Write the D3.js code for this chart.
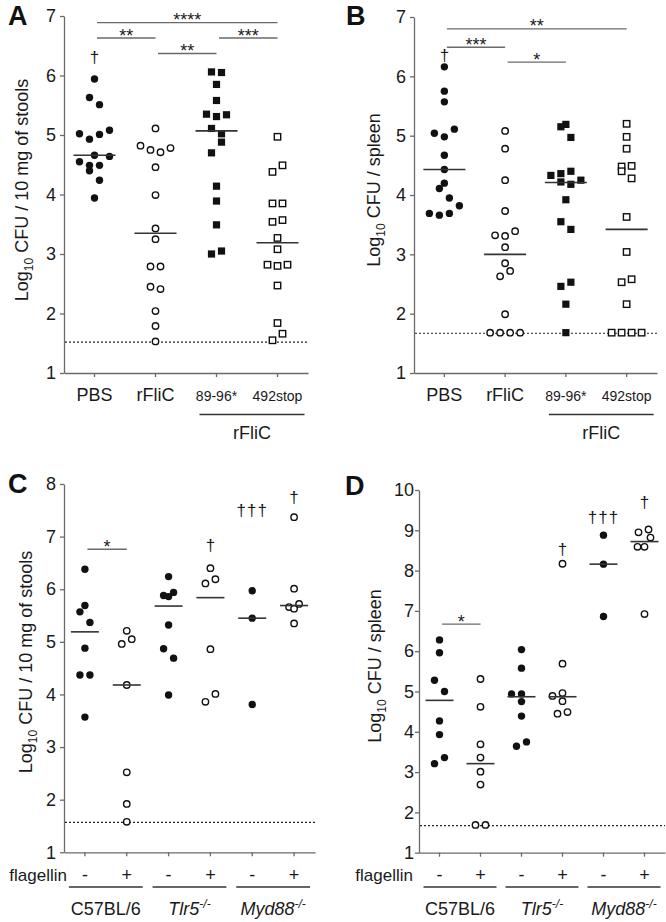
<!DOCTYPE html>
<html><head><meta charset="utf-8">
<script src="https://cdn.jsdelivr.net/npm/d3@7"></script>
<style>
html,body{margin:0;padding:0;background:#fff;}
svg{display:block;}
</style></head><body>
<svg id="c" width="666" height="922"></svg>
<script>
// ================= DATA =================
// Panels A & B (rFliC variants)
const catsAB = ["PBS", "rFliC", "89-96*", "492stop"];
const ticksAB = [1, 2, 3, 4, 5, 6, 7];
const markersAB = ["dot", "ring", "square", "box"];

// Panel A: Log10 CFU / 10 mg of stools
const A_PBS     = [5.94, 5.63, 5.51, 5.02, 4.93, 5.01, 5.08, 4.66, 4.64, 4.55, 4.49, 4.49, 4.40, 4.24, 3.94];
const A_PBS_j   = [0, -1, 1, -3, -1, 1, 3, 0, 3, -3, -1, 1, -1, 1, 0];
const A_rFliC   = [5.11, 4.82, 4.75, 4.71, 4.78, 4.46, 3.99, 3.43, 3.25, 2.79, 2.79, 2.45, 2.41, 2.04, 1.79, 1.53];
const A_rFliC_j = [0, -3, -1, 1, 3, 0, 0, 0, 0, -1, 1, -1, 1, 0, 0, 0];
const A_8996    = [6.06, 6.05, 5.85, 5.58, 5.35, 5.31, 5.34, 5.11, 5.02, 4.88, 4.70, 4.14, 3.89, 3.49, 3.00, 3.05];
const A_8996_j  = [-1, 1, 0, 0, -2, 0, 2, -1, 1, 1, -1, 0, 0, 0, -1, 1];
const A_492     = [4.97, 4.38, 4.49, 3.85, 3.85, 3.54, 3.57, 3.27, 3.08, 2.82, 2.80, 2.82, 2.47, 1.84, 1.66, 1.55];
const A_492_j   = [0, -1, 1, -1, 1, -1, 1, 0, 0, -2, 0, 2, 0, 0, 1, -1];
const A_medians = [4.66, 3.35, 5.07, 3.19];
const A_limit   = 1.52;
const A_sig     = [[0, 3, 6.89, "****"], [0, 1, 6.63, "**"], [2, 3, 6.63, "***"], [1, 2, 6.37, "**"]];
const A_dagger  = [[0, 6.30, "\u2020"]];

// Panel B: Log10 CFU / spleen
const B_PBS     = [6.16, 5.75, 5.57, 5.04, 4.98, 5.11, 4.67, 4.43, 4.20, 4.11, 3.95, 3.82, 3.69, 3.66, 3.69];
const B_PBS_j   = [0, 0, 0, -2, 0, 2, 0, 0, 0, -1, 1, 3, -3, -1, 1];
const B_rFliC   = [5.08, 4.78, 4.25, 3.73, 3.32, 3.31, 3.39, 3.12, 2.85, 2.72, 2.63, 1.99, 1.68, 1.68, 1.68, 1.68];
const B_rFliC_j = [0, 0, 0, 0, -2, 0, 2, 0, 0, 1, -1, 0, -3, -1, 1, 3];
const B_8996    = [5.15, 5.19, 4.97, 4.33, 4.36, 4.40, 4.22, 4.18, 4.25, 3.92, 3.55, 3.42, 2.46, 2.53, 2.16, 1.68];
const B_8996_j  = [-1, 0, 1, -3, -1, 1, -1, 1, 3, 0, -1, 1, -1, 1, 0, 0];
const B_492     = [5.20, 4.98, 4.78, 4.48, 4.49, 4.40, 4.28, 3.63, 3.04, 2.53, 2.58, 2.16, 1.68, 1.68, 1.68, 1.68];
const B_492_j   = [0, 0, 0, -1, 1, -1, 1, 0, 0, -1, 1, 0, -3, -1, 1, 3];
const B_medians = [4.43, 3.00, 4.21, 3.42];
const B_limit   = 1.67;
const B_sig     = [[0, 3, 6.80, "**"], [0, 1, 6.49, "***"], [1, 2, 6.24, "*"]];
const B_dagger  = [[0, 6.35, "\u2020"]];

// Panels C & D (mouse strains, +/- flagellin)
const catsCD = ["C57-", "C57+", "Tlr5-", "Tlr5+", "Myd88-", "Myd88+"];
const signsCD = ["-", "+", "-", "+", "-", "+"];
const markersCD = ["dot", "ring", "dot", "ring", "dot", "ring"];
const strainsCD = ["C57BL/6", "Tlr5", "Myd88"];
const strainSupCD = ["", "-/-", "-/-"];
const ticksC = [1, 2, 3, 4, 5, 6, 7, 8];
const ticksD = [1, 2, 3, 4, 5, 6, 7, 8, 9, 10];

// Panel C: Log10 CFU / 10 mg of stools
const C_C57m    = [6.38, 5.69, 5.57, 5.37, 4.88, 4.37, 4.37, 3.57];
const C_C57m_j  = [0, 0, -1, 1, 0, -1, 1, 0];
const C_C57p    = [5.21, 4.96, 5.05, 4.18, 2.52, 1.92, 1.58];
const C_C57p_j  = [0, -1, 1, 0, 0, 0, 0];
const C_Tlr5m   = [6.24, 5.88, 5.86, 5.94, 5.32, 4.87, 4.69, 3.99];
const C_Tlr5m_j = [0, -1, 0, 1, 0, -1, 1, 0];
const C_Tlr5p   = [6.40, 6.11, 6.19, 4.86, 3.86, 4.01];
const C_Tlr5p_j = [0, -1, 1, 0, -1, 1];
const C_Mydm    = [5.97, 5.45, 3.81];
const C_Mydm_j  = [0, 0, 0];
const C_Mydp    = [7.37, 6.01, 5.66, 5.72, 5.63, 5.35];
const C_Mydp_j  = [0, 0, -1, 1, 0, 0];
const C_medians = [5.19, 4.18, 5.68, 5.84, 5.45, 5.69];
const C_limit   = 1.57;
const C_sig     = [[0, 1, 6.76, "*"]];
const C_dagger  = [[3, 6.82, "\u2020"], [4, 7.48, "\u2020\u2020\u2020"], [5, 7.74, "\u2020"]];

// Panel D: Log10 CFU / spleen
const D_C57m    = [6.28, 5.96, 5.28, 5.00, 4.27, 3.93, 3.36, 3.21];
const D_C57m_j  = [0, 0, -1, 1, 0, 0, 1, -1];
const D_C57p    = [5.31, 4.62, 3.69, 3.36, 3.01, 2.69, 1.69, 1.69];
const D_C57p_j  = [0, 0, 0, 0, 0, 0, -1, 1];
const D_Tlr5m   = [6.04, 5.58, 4.94, 4.94, 4.75, 4.39, 3.64, 3.75];
const D_Tlr5m_j = [0, 0, -2, 0, 0, 0, -1, 1];
const D_Tlr5p   = [8.17, 5.69, 4.89, 4.96, 4.76, 4.45, 4.49];
const D_Tlr5p_j = [0, 0, -2, 0, 0, -1, 1];
const D_Mydm    = [8.88, 8.16, 6.86];
const D_Mydm_j  = [0, 0, 0];
const D_Mydp    = [8.95, 9.02, 8.82, 8.59, 8.59, 6.92];
const D_Mydp_j  = [-1.2, 0.8, 1.2, -1.4, 0, 0];
const D_medians = [4.78, 3.21, 4.87, 4.87, 8.16, 8.72];
const D_limit   = 1.67;
const D_sig     = [[0, 1, 6.67, "*"]];
const D_dagger  = [[3, 8.51, "\u2020"], [4, 9.30, "\u2020\u2020\u2020"], [5, 9.68, "\u2020"]];

// ================= DRAWING =================
const FONT = "Arial, 'Liberation Sans', Helvetica, sans-serif";
const AX = "#6a6a6a";
const TXT = "#1a1a1a";
const svg = d3.select("#c").attr("font-family", FONT);

function drawPanel(p) {
  const g = svg.append("g");
  const x = d3.scaleBand().domain(p.keys).range([p.x0, p.x1]);
  const cx = i => x(p.keys[i]) + x.bandwidth() / 2;
  const y = d3.scaleLinear().domain(p.domain).range([p.yb, p.yt]);
  const jx = d3.scaleLinear().domain([-1, 1]).range([-5, 5]);

  // y axis
  const ay = g.append("g").attr("transform", `translate(${p.x0},0)`)
    .call(d3.axisLeft(y).tickValues(p.ticks).tickFormat(d3.format("d"))
      .tickSize(4).tickSizeOuter(0).tickPadding(p.tickPad));
  ay.attr("font-family", FONT).attr("font-size", p.tickFont);
  ay.select(".domain").attr("stroke", AX).attr("stroke-width", 1.3);
  ay.selectAll(".tick line").attr("stroke", AX).attr("stroke-width", 1.3);
  ay.selectAll(".tick text").attr("fill", TXT);

  // x axis
  const axg = g.append("g").attr("transform", `translate(0,${p.yb})`)
    .call(d3.axisBottom(x).tickSize(4).tickSizeOuter(0).tickFormat(""));
  axg.select(".domain").attr("stroke", AX).attr("stroke-width", 1.3);
  axg.selectAll(".tick line").attr("stroke", AX).attr("stroke-width", 1.3);

  // detection limit
  g.append("line").attr("x1", p.x0 + 1).attr("x2", p.x1)
    .attr("y1", y(p.limit)).attr("y2", y(p.limit))
    .attr("stroke", "#222").attr("stroke-width", 1.2).attr("stroke-dasharray", "2,2");

  // points
  const pts = [];
  p.groups.forEach((grp, i) => grp.vals.forEach((v, j) =>
    pts.push({ i, v, jit: grp.jit[j], m: p.markers[i] })));
  const px = d => cx(d.i) + jx(d.jit);
  g.selectAll("circle.pt").data(pts.filter(d => d.m === "dot" || d.m === "ring")).join("circle")
    .attr("class", "pt").attr("cx", px).attr("cy", d => y(d.v))
    .attr("r", d => d.m === "dot" ? 3.7 : 3.2)
    .attr("fill", d => d.m === "dot" ? "#111" : "#fff")
    .attr("stroke", "#111").attr("stroke-width", d => d.m === "dot" ? 0 : 1.4);
  g.selectAll("rect.pt").data(pts.filter(d => d.m === "square" || d.m === "box")).join("rect")
    .attr("class", "pt")
    .attr("x", d => px(d) - (d.m === "square" ? 3.6 : 3.2))
    .attr("y", d => y(d.v) - (d.m === "square" ? 3.6 : 3.2))
    .attr("width", d => d.m === "square" ? 7.2 : 6.4)
    .attr("height", d => d.m === "square" ? 7.2 : 6.4)
    .attr("fill", d => d.m === "square" ? "#111" : "#fff")
    .attr("stroke", "#111").attr("stroke-width", d => d.m === "square" ? 0 : 1.4);

  // medians
  g.selectAll("line.med").data(p.medians).join("line").attr("class", "med")
    .attr("x1", (d, i) => cx(i) - p.medW / 2).attr("x2", (d, i) => cx(i) + p.medW / 2)
    .attr("y1", d => y(d)).attr("y2", d => y(d))
    .attr("stroke", "#333").attr("stroke-width", 1.6);

  // significance bars
  p.sig.forEach(s => {
    const xa = cx(s[0]) + 2.5, xb = cx(s[1]);
    g.append("line").attr("x1", xa).attr("x2", xb).attr("y1", y(s[2])).attr("y2", y(s[2]))
      .attr("stroke", AX).attr("stroke-width", 1.3);
    g.append("text").attr("x", (xa + xb) / 2).attr("y", y(s[2]) + 3.5)
      .attr("text-anchor", "middle").attr("font-size", 18).attr("fill", TXT).text(s[3]);
  });

  // daggers
  p.dagger.forEach(dg => {
    g.append("text").attr("x", cx(dg[0])).attr("y", y(dg[1]) + 5)
      .attr("text-anchor", "middle").attr("font-size", 17).attr("fill", TXT)
      .attr("letter-spacing", dg[2].length > 1 ? 1 : 0).text(dg[2]);
  });

  // panel letter
  g.append("text").attr("x", p.letterX).attr("y", p.letterY).attr("font-size", 27)
    .attr("font-weight", "bold").attr("fill", "#111").text(p.letter);

  // y label
  const yl = g.append("text").attr("transform", `translate(${p.ylX},${p.ylY}) rotate(-90)`)
    .attr("text-anchor", "middle").attr("font-size", 18).attr("fill", TXT);
  yl.append("tspan").text("Log");
  yl.append("tspan").attr("font-size", 12).attr("dy", 5).text("10");
  yl.append("tspan").attr("dy", -5).text(" " + p.ylabel);

  return { g, x, cx, y };
}

function drawABLabels(P) {
  const { g, cx } = P;
  catsAB.forEach((c, i) => {
    g.append("text").attr("x", cx(i)).attr("y", 401).attr("text-anchor", "middle")
      .attr("font-size", i < 2 ? 18 : 14).attr("fill", TXT).text(c);
  });
  const xa = cx(2) - 17, xb = cx(3) + 27;
  g.append("line").attr("x1", xa).attr("x2", xb).attr("y1", 414.5).attr("y2", 414.5)
    .attr("stroke", "#333").attr("stroke-width", 1.5);
  g.append("text").attr("x", (xa + xb) / 2).attr("y", 439).attr("text-anchor", "middle")
    .attr("font-size", 18).attr("fill", TXT).text("rFliC");
}

function drawCDLabels(P, flagX) {
  const { g, cx } = P;
  g.append("text").attr("x", flagX).attr("y", 881).attr("text-anchor", "end")
    .attr("font-size", 17).attr("fill", TXT).text("flagellin");
  signsCD.forEach((s, i) => {
    g.append("text").attr("x", cx(i)).attr("y", 881).attr("text-anchor", "middle")
      .attr("font-size", 18).attr("fill", TXT).text(s);
  });
  strainsCD.forEach((s, k) => {
    const xa = cx(2 * k) - 16, xb = cx(2 * k + 1) + 16;
    g.append("line").attr("x1", xa).attr("x2", xb).attr("y1", 887).attr("y2", 887)
      .attr("stroke", "#333").attr("stroke-width", 1.5);
    const t = g.append("text").attr("x", (xa + xb) / 2).attr("y", 915).attr("text-anchor", "middle")
      .attr("font-size", 18).attr("fill", TXT);
    if (strainSupCD[k]) {
      t.append("tspan").attr("font-style", "italic").text(s);
      t.append("tspan").attr("font-style", "italic").attr("font-size", 12).attr("dy", -7).text(strainSupCD[k]);
    } else {
      t.text(s);
    }
  });
}

const PA = drawPanel({
  keys: catsAB, markers: markersAB, x0: 64, x1: 308, yb: 373, yt: 16, domain: [1, 7],
  ticks: ticksAB, tickPad: 4, tickFont: 18, limit: A_limit, medW: 42,
  groups: [{ vals: A_PBS, jit: A_PBS_j }, { vals: A_rFliC, jit: A_rFliC_j },
           { vals: A_8996, jit: A_8996_j }, { vals: A_492, jit: A_492_j }],
  medians: A_medians, sig: A_sig, dagger: A_dagger,
  letter: "A", letterX: 8, letterY: 25, ylX: 28, ylY: 190, ylabel: "CFU / 10 mg of stools"
});
drawABLabels(PA);

const PB = drawPanel({
  keys: catsAB, markers: markersAB, x0: 414, x1: 657, yb: 373, yt: 17, domain: [1, 7],
  ticks: ticksAB, tickPad: 4, tickFont: 18, limit: B_limit, medW: 42,
  groups: [{ vals: B_PBS, jit: B_PBS_j }, { vals: B_rFliC, jit: B_rFliC_j },
           { vals: B_8996, jit: B_8996_j }, { vals: B_492, jit: B_492_j }],
  medians: B_medians, sig: B_sig, dagger: B_dagger,
  letter: "B", letterX: 346, letterY: 25, ylX: 380, ylY: 190, ylabel: "CFU / spleen"
});
drawABLabels(PB);

const PC = drawPanel({
  keys: catsCD, markers: markersCD, x0: 64, x1: 315, yb: 852.3, yt: 484, domain: [1, 8],
  ticks: ticksC, tickPad: 4, tickFont: 18, limit: C_limit, medW: 28,
  groups: [{ vals: C_C57m, jit: C_C57m_j }, { vals: C_C57p, jit: C_C57p_j },
           { vals: C_Tlr5m, jit: C_Tlr5m_j }, { vals: C_Tlr5p, jit: C_Tlr5p_j },
           { vals: C_Mydm, jit: C_Mydm_j }, { vals: C_Mydp, jit: C_Mydp_j }],
  medians: C_medians, sig: C_sig, dagger: C_dagger,
  letter: "C", letterX: 8, letterY: 493, ylX: 32, ylY: 662, ylabel: "CFU / 10 mg of stools"
});
drawCDLabels(PC, 67);

const PD = drawPanel({
  keys: catsCD, markers: markersCD, x0: 419, x1: 665, yb: 852.7, yt: 490, domain: [1, 10],
  ticks: ticksD, tickPad: 1, tickFont: 18, limit: D_limit, medW: 28,
  groups: [{ vals: D_C57m, jit: D_C57m_j }, { vals: D_C57p, jit: D_C57p_j },
           { vals: D_Tlr5m, jit: D_Tlr5m_j }, { vals: D_Tlr5p, jit: D_Tlr5p_j },
           { vals: D_Mydm, jit: D_Mydm_j }, { vals: D_Mydp, jit: D_Mydp_j }],
  medians: D_medians, sig: D_sig, dagger: D_dagger,
  letter: "D", letterX: 345, letterY: 495, ylX: 381, ylY: 666, ylabel: "CFU / spleen"
});
drawCDLabels(PD, 413);
</script>
</body></html>
